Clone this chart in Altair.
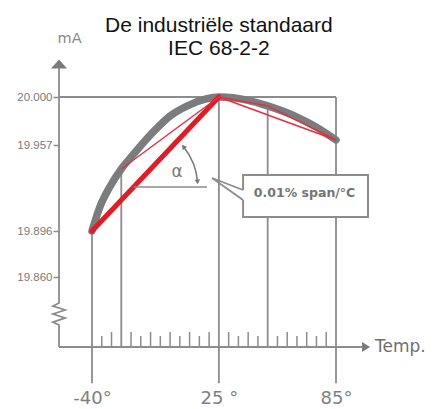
import altair as alt
import pandas as pd

# ---------------- data ----------------
title_lines = ["De industriële standaard", "IEC 68-2-2"]
title_T = [25, 25]
title_mA = [20.058, 20.0375]

# smooth characteristic (temperature in °C, output in mA)
curve_T = [-40, -36, -31, -25, -19, -9, 0, 10, 18, 25, 40, 50, 65, 75, 85]
curve_mA = [19.896, 19.913, 19.927, 19.940, 19.950, 19.968, 19.983, 19.993,
            19.998, 20.000, 19.997, 19.992, 19.982, 19.973, 19.9615]

# thick red box-method line and the thin red chords
thick_T = [-40, 25]
thick_mA = [19.896, 20.000]
chordA_T = [-25, 25]
chordA_mA = [19.940, 20.000]
chordB_T = [25, 50, 85]
chordB_mA = [20.000, 19.992, 19.9615]
chordC_T = [25, 85]
chordC_mA = [20.000, 19.9615]

# vertical guide lines
guide_T = [-40, -25, 25, 50, 85]
guide_top = [19.896, 19.940, 20.000, 19.992, 20.000]
guide_bottom = [19.769, 19.800, 19.769, 19.800, 19.769]

# small ticks on the temperature axis
tick_T = [-35, -30, -20, -15, -10, -5, 0, 5, 10, 15, 20, 30, 35, 40, 45, 55, 60, 65, 70, 75, 80]
tick_top = [19.8094, 19.8129, 19.8129, 19.8094, 19.8129, 19.8094, 19.8129, 19.8094, 19.8129,
            19.8094, 19.8129, 19.8129, 19.8094, 19.8129, 19.8094, 19.8094, 19.8129, 19.8094,
            19.8129, 19.8094, 19.8129]

# axis values
y_ticks = [19.860, 19.896, 19.957, 20.000]
x_labels = [-40, 25, 85]

# axis frame (origin, broken y axis with zigzag)
axis_T = [-56.9, -56.9, -60.0, -53.8, -60.0, -53.8, -60.0, -56.9, -56.9]
axis_mA = [20.026, 19.8377, 19.8351, 19.8317, 19.8283, 19.8249, 19.8214, 19.8189, 19.800]
origin_T = -56.9
origin_mA = 19.800
xaxis_end_T = 98.3

# angle annotation
angle_line_T = [-18.6, 18.9]
angle_line_mA = 19.9272
arc_center_T = -18.6
arc_center_mA = 19.9272
arc_heads_T = [6.82, 14.05]
arc_heads_mA = [19.9558, 19.9308]
arc_heads_angle = [321, 175]
alpha_T = 3.55
alpha_mA = 19.9379

# call-out
box_T = [37.4, 101.4]
box_mA = [19.9357, 19.9059]
tail_T = [37.4, 21.5, 37.4]
tail_mA = [19.9251, 19.9336, 19.9180]
callout_T = 68.9
callout_mA = 19.9233
callout_text = "0.01% span/°C"

# ---------------- scales ----------------
xs = alt.Scale(domain=[-40, 85], range=[33, 277], nice=False, zero=False)
ys = alt.Scale(domain=[19.80, 19.860, 19.896, 19.957, 20.000, 20.033],
               range=[287, 217, 171, 85, 37, 0], nice=False, zero=False)

GRAY = "#8c8c8c"
TXT = "#7a7a7a"
RED = "#e31b23"

x_axis = alt.Axis(values=x_labels, labelExpr="datum.value == 25 ? '25 °' : datum.value + '°'",
                  domain=False, ticks=False, grid=False, labelPadding=42, labelFontSize=18,
                  labelFont="DejaVu Sans", labelColor="#808080", title=None,
                  labelFlush=False, labelOverlap=False)
y_axis = alt.Axis(values=y_ticks, format=".3f", domain=False, grid=False, tickSize=6,
                  tickColor=GRAY, tickWidth=1.5, labelPadding=1, labelFont="Liberation Sans",
                  labelFontSize=11.5, labelColor=TXT, title=None, labelFlush=False,
                  labelOverlap=False)


def X(field="T"):
    return alt.X(f"{field}:Q", scale=xs, axis=x_axis)


def Y(field="mA"):
    return alt.Y(f"{field}:Q", scale=ys, axis=y_axis)


guides = alt.Chart(pd.DataFrame({"T": guide_T, "top": guide_top, "bottom": guide_bottom})).mark_rule(
    color=GRAY, strokeWidth=1.8).encode(x=X("T"), y=Y("top"), y2="bottom:Q")

top_line = alt.Chart(pd.DataFrame({"T": [origin_T], "T2": [85], "mA": [20.000]})).mark_rule(
    color=GRAY, strokeWidth=1.8).encode(x=X("T"), x2="T2:Q", y=Y("mA"))

ticks = alt.Chart(pd.DataFrame({"T": tick_T, "top": tick_top, "b": [origin_mA] * len(tick_T)})).mark_rule(
    color=GRAY, strokeWidth=1.5).encode(x=X("T"), y=Y("top"), y2="b:Q")

yaxis_line = alt.Chart(pd.DataFrame({"T": axis_T, "mA": axis_mA, "i": list(range(len(axis_T)))})).mark_line(
    color=GRAY, strokeWidth=1.8).encode(x=X("T"), y=Y("mA"), order="i:Q")

xaxis_line = alt.Chart(pd.DataFrame({"T": [origin_T], "T2": [xaxis_end_T], "mA": [origin_mA]})).mark_rule(
    color=GRAY, strokeWidth=1.8).encode(x=X("T"), x2="T2:Q", y=Y("mA"))

yarrow = alt.Chart(pd.DataFrame({"T": [origin_T], "mA": [20.0294]})).mark_point(
    shape="M-1,0.56L0,-0.56L1,0.56Z", size=256, filled=True, color="#7a7a7a", opacity=1).encode(
    x=X("T"), y=Y("mA"))
xarrow = alt.Chart(pd.DataFrame({"T": [100.4], "mA": [origin_mA]})).mark_point(
    shape="M-0.5,-0.62L0.5,0L-0.5,0.62Z", size=256, filled=True, color="#7a7a7a", opacity=1).encode(
    x=X("T"), y=Y("mA"))

curve = alt.Chart(pd.DataFrame({"T": curve_T, "mA": curve_mA})).mark_line(
    color="#7a7c7e", strokeWidth=7.5, strokeCap="round", interpolate="monotone").encode(
    x=X("T"), y=Y("mA"))

thick = alt.Chart(pd.DataFrame({"T": thick_T, "mA": thick_mA})).mark_line(
    color=RED, strokeWidth=5, strokeCap="round").encode(x=X("T"), y=Y("mA"))


def thin(ts, ms):
    return alt.Chart(pd.DataFrame({"T": ts, "mA": ms})).mark_line(
        color="#e2303c", strokeWidth=1.4).encode(x=X("T"), y=Y("mA"))


angle_line = alt.Chart(pd.DataFrame({"T": [angle_line_T[0]], "T2": [angle_line_T[1]], "mA": [angle_line_mA]})).mark_rule(
    color=GRAY, strokeWidth=1.5).encode(x=X("T"), x2="T2:Q", y=Y("mA"))

arc = alt.Chart(pd.DataFrame({"T": [arc_center_T], "mA": [arc_center_mA]})).mark_arc(
    radius=64, radius2=64, theta=0.89, theta2=1.49, filled=False, stroke="#777777",
    strokeWidth=1.5).encode(x=X("T"), y=Y("mA"))

arc_heads = alt.Chart(pd.DataFrame({"T": arc_heads_T, "mA": arc_heads_mA, "a": arc_heads_angle})).mark_point(
    shape="triangle-up", size=30, filled=True, color="#777777", opacity=1).encode(
    x=X("T"), y=Y("mA"), angle=alt.Angle("a:Q", scale=None))

alpha = alt.Chart(pd.DataFrame({"T": [alpha_T], "mA": [alpha_mA], "t": ["α"]})).mark_text(
    font="DejaVu Sans", fontSize=17, color=TXT, baseline="middle", align="center").encode(
    x=X("T"), y=Y("mA"), text="t:N")

box = alt.Chart(pd.DataFrame({"T": [box_T[0]], "T2": [box_T[1]], "mA": [box_mA[0]], "mA2": [box_mA[1]]})).mark_rect(
    fill="white", stroke=GRAY, strokeWidth=2).encode(x=X("T"), x2="T2:Q", y=Y("mA"), y2="mA2:Q")

gap = alt.Chart(pd.DataFrame({"T": [box_T[0]], "mA": [tail_mA[0]], "mA2": [tail_mA[2]]})).mark_rule(
    color="white", strokeWidth=3).encode(x=X("T"), y=Y("mA"), y2="mA2:Q")

tail = alt.Chart(pd.DataFrame({"T": tail_T, "mA": tail_mA, "i": [0, 1, 2]})).mark_line(
    color=GRAY, strokeWidth=1.8).encode(x=X("T"), y=Y("mA"), order="i:Q")

callout = alt.Chart(pd.DataFrame({"T": [callout_T], "mA": [callout_mA], "t": [callout_text]})).mark_text(
    font="DejaVu Sans", fontSize=12.5, fontWeight="bold", color="#757575", baseline="middle",
    align="center").encode(x=X("T"), y=Y("mA"), text="t:N")

mA_label = alt.Chart(pd.DataFrame({"T": [-51.5], "mA": [20.048], "t": ["mA"]})).mark_text(
    font="DejaVu Sans", fontSize=14.5, color="#888888", baseline="alphabetic", align="center").encode(
    x=X("T"), y=Y("mA"), text="t:N")
temp_label = alt.Chart(pd.DataFrame({"T": [105.0], "mA": [19.7957], "t": ["Temp."]})).mark_text(
    font="DejaVu Sans", fontSize=17, color="#6f6f6f", baseline="alphabetic", align="left").encode(
    x=X("T"), y=Y("mA"), text="t:N")

title = alt.Chart(pd.DataFrame({"T": title_T, "mA": title_mA, "t": title_lines})).mark_text(
    font="Liberation Sans", fontSize=21, color="#111111", baseline="alphabetic", align="center").encode(
    x=X("T"), y=Y("mA"), text="t:N")

chart = alt.layer(
    guides, top_line, ticks, yaxis_line, xaxis_line, yarrow, xarrow,
    curve, thick, thin(chordA_T, chordA_mA), thin(chordB_T, chordB_mA), thin(chordC_T, chordC_mA),
    angle_line, arc, arc_heads, alpha,
    box, gap, tail, callout, mA_label, temp_label, title,
).properties(
    width=313, height=287,
    autosize=alt.AutoSizeParams(type="none"),
    padding={"left": 51, "top": 52, "right": 56, "bottom": 60},
).configure_view(stroke=None)

chart.save("out.html", embed_options={"renderer": "svg", "actions": False})
